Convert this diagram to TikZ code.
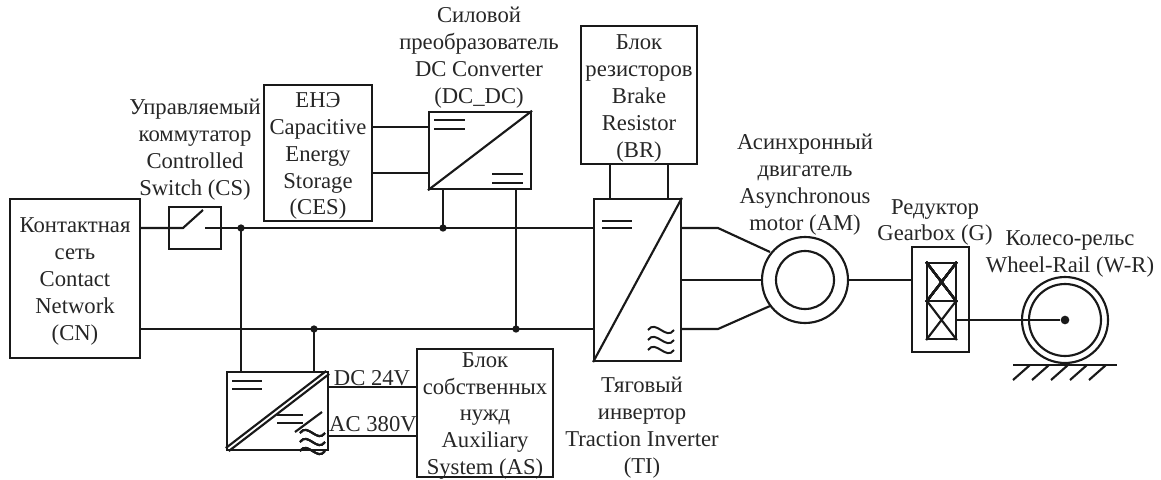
\documentclass[tikz,border=0pt]{standalone}
\usepackage{fontspec}
\usetikzlibrary{calc}
\setmainfont{Liberation Serif}
\newcommand{\lbl}{\fontsize{17}{20.2}\selectfont}
\tikzset{
  x=0.75pt,y=-0.75pt,
  ln/.style={draw=black!90,line width=1.6pt,line cap=butt,line join=miter},
  thin ln/.style={draw=black!90,line width=1.5pt},
  dotm/.style={circle,fill=black!90,inner sep=0pt,minimum size=5.5pt},
  boxn/.style={draw=black!90,line width=1.6pt,rectangle,inner sep=0pt},
  ring/.style={circle,draw=black!90,line width=1.6pt,inner sep=0pt},
  lab/.style={inner sep=0pt,align=center,font=\lbl,text=black!85},
}
\newcommand{\wavy}[3]{% x, y, width
  \draw[thin ln] (#1,#2) .. controls ({#1+0.3*#3},{#2-11}) and ({#1+0.7*#3},{#2+11}) .. ({#1+#3},#2);}
\begin{document}
\begin{tikzpicture}
\useasboundingbox (0,0) rectangle (1161,479);
% boxes
\node[boxn,minimum width=97.5pt,minimum height=119pt] (cn) at (75,278.5) {};
\node[boxn,minimum width=39pt,minimum height=32pt] (cs) at (195,228) {};
\node[boxn,minimum width=81pt,minimum height=102pt] (ces) at (318,153) {};
\node[boxn,minimum width=76.5pt,minimum height=58pt] (dc) at (480,150.5) {};
\node[boxn,minimum width=87pt,minimum height=103.5pt] (br) at (639,95) {};
\node[boxn,minimum width=65pt,minimum height=121.5pt] (ti) at (637.5,280) {};
\node[boxn,minimum width=76pt,minimum height=58.5pt] (aux) at (277.5,411) {};
\node[boxn,minimum width=102pt,minimum height=96pt] (as) at (485,413) {};
\node[ring,minimum size=64.5pt] (am) at (805,280) {};
\node[ring,minimum size=43.5pt] (ami) at (805,280) {};
\node[boxn,minimum width=43pt,minimum height=79pt] (g) at (940.5,299.5) {};
\node[boxn,minimum width=21.5pt,minimum height=28.5pt] (g1) at (941.5,282) {};
\node[boxn,minimum width=21.5pt,minimum height=28.5pt] (g2) at (941.5,320) {};
\node[ring,minimum size=64.5pt] (wo) at (1065,320) {};
\node[ring,minimum size=54pt] (wi) at (1065,320) {};
\node[dotm,minimum size=6.5pt] (wc) at (1065,320) {};
% box texts
\node[lab] (cnt) at (75,281.5) {Контактная\\сеть\\Contact\\Network\\(CN)};
\node[lab] (cest) at (318,156) {ЕНЭ\\Capacitive\\Energy\\Storage\\(CES)};
\node[lab] (brt) at (639,98.5) {Блок\\резисторов\\Brake\\Resistor\\(BR)};
\node[lab] (ast) at (485,416) {Блок\\собственных\\нужд\\Auxiliary\\System (AS)};
% labels
\node[lab] (l1) at (195,150) {Управляемый\\коммутатор\\Controlled\\Switch (CS)};
\node[lab] (l2) at (479,58) {Силовой\\преобразователь\\DC Converter\\(DC\_DC)};
\node[lab] (l3) at (805,184.5) {Асинхронный\\двигатель\\Asynchronous\\motor (AM)};
\node[lab] (l4) at (935,222.5) {Редуктор\\Gearbox (G)};
\node[lab] (l5) at (1070,254) {Колесо-рельс\\Wheel-Rail (W-R)};
\node[lab] (l6) at (642,428) {Тяговый\\инвертор\\Traction Inverter\\(TI)};
\node[lab] (l7) at (372,378) {DC 24V};
\node[lab] (l8) at (373,424) {AC 380V};
% junctions
\coordinate (t1) at (241,228);
\coordinate (t2) at (443,228);
\coordinate (b1) at (314,329);
\coordinate (b2) at (516,329);
\node[dotm] (d1) at (t1) {};
\node[dotm] (d2) at (t2) {};
\node[dotm] (d3) at (b1) {};
\node[dotm] (d4) at (b2) {};
% buses
\coordinate (swa) at (183,228);
\coordinate (swb) at (205,228);
\coordinate (swc) at (203,210);
\draw[ln] (cn.east |- t1) -- (swa) -- (swc);
\draw[ln] (swb) -- (ti.west |- t1);
\draw[ln] (cn.east |- b1) -- (ti.west |- b1);
% verticals
\draw[ln] (t1) -- (t1 |- aux.north);
\draw[ln] (b1) -- (b1 |- aux.north);
\draw[ln] (t2) -- (t2 |- dc.south);
\draw[ln] (b2) -- (b2 |- dc.south);
\draw[ln] (ces.east |- 0,127) -- (dc.west |- 0,127);
\draw[ln] (ces.east |- 0,173) -- (dc.west |- 0,173);
\draw[ln] (aux.east |- 0,387) -- (as.west |- 0,387);
\draw[ln] (aux.east |- 0,436) -- (as.west |- 0,436);
\draw[ln] (610,164) -- (610,199);
\draw[ln] (668,164) -- (668,199);
% TI to motor
\coordinate (k1) at (718,228);
\coordinate (k2) at (718,329);
\draw[ln] (ti.east |- k1) -- (k1) -- (770,252);
\draw[ln] (ti.east |- k2) -- (k2) -- (770,306);
\draw[ln] (ti.east) -- (am.west);
\draw[ln] (am.east) -- (g.west |- am.east);
\draw[ln] (g2.east) -- (wc);
% converter inner
\draw[ln] (dc.south west) -- (dc.north east);
\draw[ln] (ti.south west) -- (ti.north east);
\draw[ln] ($(aux.south west)+(0,-3)$) -- ($(aux.north east)+(-3,0)$);
\draw[ln] ($(aux.south west)+(3,0)$) -- ($(aux.north east)+(0,3)$);
% equals
\foreach \xa/\xb/\yy in {434/465/120,434/465/129,492/523/174,492/523/183,602/632/221,602/632/228,232/262/381,232/262/389,277/303/415,277/303/423}
  \draw[ln] (\xa,\yy) -- (\xb,\yy);
\draw[ln] (295,432) -- (322,412);
% waves
\foreach \yy in {330,340,350} \wavy{648}{\yy}{26}
\foreach \yy in {433,442,451} \wavy{300}{\yy}{25}
% gearbox crosses
\draw[ln] (g1.south west) -- (g1.north east) (g1.north west) -- (g1.south east);
\draw[ln] (g2.south west) -- (g2.north east) (g2.north west) -- (g2.south east);
% ground
\draw[ln] (1013,365) -- (1117,365);
\foreach \xx in {1030,1049,1068,1087,1106}
  \draw[ln] (\xx,365) -- ({\xx-17},380);
\end{tikzpicture}
\end{document}
